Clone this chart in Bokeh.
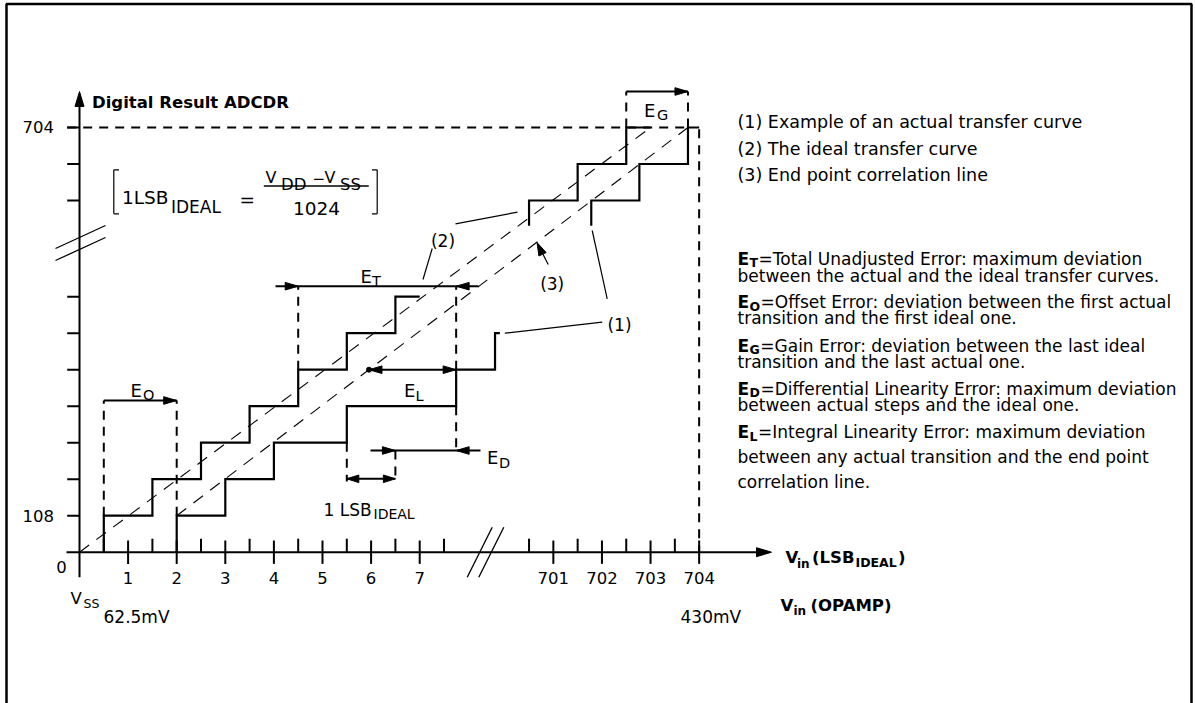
import math
from bokeh.plotting import figure
from bokeh.models import Range1d
from bokeh.core.properties import value
from bokeh.embed import file_html
from bokeh.resources import INLINE

# ------------------------------------------------------------------ data
X_MAJOR_LOW = [1, 2, 3, 4, 5, 6, 7]
X_MAJOR_HIGH = [701, 702, 703, 704]
X_MINOR_LOW = [0.5, 1.5, 2.5, 3.5, 4.5, 5.5, 6.5, 7.5]
X_MINOR_HIGH = [700.5, 701.5, 702.5, 703.5]
Y_LEVELS_LOW = [1, 2, 3, 4, 5, 6, 7]
Y_CODES_HIGH = [702, 703, 704]
Y_TICK_LABELS = {1: "108", 704: "704"}

IDEAL_T_LOW = [0.5, 1.5, 2.5, 3.5, 4.5, 5.5, 6.5]
IDEAL_LEVELS_LOW = [0, 1, 2, 3, 4, 5, 6, 7]
IDEAL_END_LOW = 7.0
IDEAL_T_HIGH = [700.5, 701.5, 702.5]
IDEAL_LEVELS_HIGH = [701.31, 702, 703, 704]
IDEAL_END_HIGH = 703.0

ACTUAL_T_LOW = [2.0, 3.0, 4.0, 5.5, 7.75, 8.55]
ACTUAL_LEVELS_LOW = [0, 1, 2, 3, 4, 5, 6]
ACTUAL_END_LOW = 8.65
ACTUAL_T_HIGH = [701.78, 702.77, 703.77]
ACTUAL_LEVELS_HIGH = [701.31, 702, 703, 704]
ACTUAL_END_HIGH = 704.0

IDEAL_LINE_X = [0.0, 703.0]
IDEAL_LINE_Y = [0.0, 704]
ENDPOINT_LINE_X = [2.0, 703.77]
ENDPOINT_LINE_Y = [1.0, 704]

NOTES = ["(1) Example of an actual transfer curve",
         "(2) The ideal transfer curve",
         "(3) End point correlation line"]
ERROR_DEFS = [
    ("T", ["=Total Unadjusted Error: maximum deviation",
           "between the actual and the ideal transfer curves."]),
    ("O", ["=Offset Error: deviation between the first actual",
           "transition and the first ideal one."]),
    ("G", ["=Gain Error: deviation between the last ideal",
           "transition and the last actual one."]),
    ("D", ["=Differential Linearity Error: maximum deviation",
           "between actual steps and the ideal one."]),
    ("L", ["=Integral Linearity Error: maximum deviation",
           "between any actual transition and the end point",
           "correlation line."]),
]

# ------------------------------------------------------------------ scales
W, H, OFF = 1195, 703, 0
PXU, PXK = 48.6, 36.5          # pixels per LSB / per code step
SX0, SY0 = 79.0, 551.7         # page position of the origin
FONT = value("DejaVu Sans")


def su(sx):
    return (sx - SX0) / PXU


def sk(sy):
    return (SY0 - sy) / PXK


def xu(v):      # broken x axis: 701..704 follow 7.5 after the break
    return v if v < 100 else v - 691.25


def yk(c):      # broken y axis: 702..704 follow level 7 after the break
    return c if c < 100 else c - 692.364


def scr(u, k):
    return SX0 + u * PXU, SY0 - k * PXK


p = figure(width=W, height=H, x_range=Range1d(su(OFF), su(OFF + W)),
           y_range=Range1d(sk(OFF + H), sk(OFF)), output_backend="svg",
           toolbar_location=None, title_location=None,
           x_axis_location=None, y_axis_location=None,
           min_border=0, min_border_left=0, min_border_right=0,
           min_border_top=0, min_border_bottom=0)
p.outline_line_color = None
p.background_fill_color = "white"
p.border_fill_color = "white"
p.xgrid.visible = False
p.ygrid.visible = False
for g in p.grid:
    g.visible = False

BLACK = "black"


def seg(x0, y0, x1, y1, lw=2.0, dash="solid"):
    p.segment(x0=x0, y0=y0, x1=x1, y1=y1, line_color=BLACK,
              line_width=lw, line_dash=dash)


heads_x, heads_y = [], []


def head(u, k, dx, dy, L=13.0, Wd=3.8):
    tx, ty = scr(u, k)
    n = math.hypot(dx, dy)
    ux, uy = dx / n, dy / n
    bx, by = tx - L * ux, ty - L * uy
    px, py = -uy, ux
    pts = [(tx, ty), (bx + Wd * px, by + Wd * py), (bx - Wd * px, by - Wd * py)]
    heads_x.append([su(a) for a, _ in pts])
    heads_y.append([sk(b) for _, b in pts])


def txt(sx, sy, s, size=17, bold=False, align="left", baseline="alphabetic"):
    p.text(x=[su(sx)], y=[sk(sy)], text=[s], text_font=FONT,
           text_font_size=f"{size}px",
           text_font_style="bold" if bold else "normal",
           text_align=align, text_baseline=baseline, text_color=BLACK)


def staircase(ts, levels, end):
    xs, ys = [], []
    for i, t in enumerate(ts):
        xs += [xu(t), xu(t)]
        ys += [yk(levels[i]), yk(levels[i + 1])]
    xs.append(xu(end))
    ys.append(yk(levels[-1]))
    return xs, ys


# ------------------------------------------------------------------ frame
fl, ft, fr = su(6), sk(3.5), su(1191)
p.line([fl, fl, fr, fr], [sk(H + 5), ft, ft, sk(H + 5)],
       line_color=BLACK, line_width=2.5)

# ------------------------------------------------------------------ dashed diagonals
THIN = "12 9"
p.line([xu(v) for v in IDEAL_LINE_X], [yk(c) for c in IDEAL_LINE_Y],
       line_color=BLACK, line_width=1.1, line_dash=THIN)
p.line([xu(v) for v in ENDPOINT_LINE_X], [yk(c) for c in ENDPOINT_LINE_Y],
       line_color=BLACK, line_width=1.1, line_dash=THIN)

# ------------------------------------------------------------------ axes
TICK_MAJ, TICK_MIN = 0.32, 0.37
p.line([0, 0], [sk(576.7), sk(105)], line_color=BLACK, line_width=2)
head(0, sk(91), 0, -1, L=15, Wd=4.5)
p.line([su(66), su(757)], [0, 0], line_color=BLACK, line_width=2)
head(su(771), 0, 1, 0, L=15, Wd=4.5)

xmaj = [xu(v) for v in X_MAJOR_LOW + X_MAJOR_HIGH]
seg(xmaj, [-TICK_MAJ] * len(xmaj), xmaj, [TICK_MAJ] * len(xmaj))
xmin = [xu(v) for v in X_MINOR_LOW + X_MINOR_HIGH]
seg(xmin, [0] * len(xmin), xmin, [TICK_MIN] * len(xmin))
ylev = [yk(c) for c in Y_LEVELS_LOW + Y_CODES_HIGH]
seg([su(66.7)] * len(ylev), ylev, [0] * len(ylev), ylev)

# axis breaks
seg([su(466.7), su(478.3)], [sk(576.7)] * 2, [su(491.7), su(503.3)], [sk(526.7)] * 2, lw=1.3)
seg([su(55), su(55)], [sk(248), sk(260)], [su(105), su(105)], [sk(225), sk(237)], lw=1.3)

# tick labels
for v in X_MAJOR_LOW + X_MAJOR_HIGH:
    sx, _ = scr(xu(v), 0)
    txt(sx, 577, str(v), 16.5, align="center", baseline="middle")
txt(61, 566, "0", 16.5, align="center", baseline="middle")
for c, lab in Y_TICK_LABELS.items():
    _, sy = scr(0, yk(c))
    txt(53.5, sy, lab, 16.5, align="right", baseline="middle")

# axis titles
txt(91.5, 101.5, "Digital Result ADCDR", 16.5, bold=True)
txt(785, 557, "V", 16.5, bold=True)
txt(796.5, 563, "in", 12, bold=True)
txt(811.5, 557, "(LSB", 16.5, bold=True)
txt(855, 562, "IDEAL", 12.5, bold=True)
txt(897.5, 557, ")", 16.5, bold=True)
txt(780, 605, "V", 16.5, bold=True)
txt(793, 610, "in", 12, bold=True)
txt(810, 605, "(OPAMP)", 16.5, bold=True)
txt(70, 598, "V", 16.5)
txt(83, 603, "SS", 12.5)
txt(103, 616.5, "62.5mV", 17)
txt(680, 616.5, "430mV", 17)

# ------------------------------------------------------------------ 704 reference lines
THICK = "9 7"
seg(su(66.7), yk(704), xu(ACTUAL_T_HIGH[-1]), yk(704), lw=2, dash=THICK)
seg(xu(704), yk(704) - 0.05, xu(704), 0, lw=2, dash=THICK)

# ------------------------------------------------------------------ staircases
for ts, lv, end in [(IDEAL_T_LOW, IDEAL_LEVELS_LOW, IDEAL_END_LOW),
                    (IDEAL_T_HIGH, IDEAL_LEVELS_HIGH, IDEAL_END_HIGH),
                    (ACTUAL_T_LOW, ACTUAL_LEVELS_LOW, ACTUAL_END_LOW),
                    (ACTUAL_T_HIGH, ACTUAL_LEVELS_HIGH, ACTUAL_END_HIGH)]:
    xs, ys = staircase(ts, lv, end)
    p.line(xs, ys, line_color=BLACK, line_width=2.2, line_join="miter")

# ------------------------------------------------------------------ error annotations
# E_O
EO_Y = sk(400)
seg([IDEAL_T_LOW[0], ACTUAL_T_LOW[0]], [1, 1], [IDEAL_T_LOW[0], ACTUAL_T_LOW[0]], [EO_Y] * 2, dash=THICK)
seg(IDEAL_T_LOW[0], EO_Y, ACTUAL_T_LOW[0], EO_Y)
head(ACTUAL_T_LOW[0], EO_Y, 1, 0)
txt(130, 390, "E", 18)
txt(142.5, 394.5, "O", 14.5)

# E_T
ET_Y = sk(285.7)
seg(su(275), ET_Y, su(478), ET_Y)
head(IDEAL_T_LOW[4], ET_Y, 1, 0)
head(ACTUAL_T_LOW[4], ET_Y, -1, 0)
seg([IDEAL_T_LOW[4], ACTUAL_T_LOW[4]], [5, 5], [IDEAL_T_LOW[4], ACTUAL_T_LOW[4]], [ET_Y] * 2, dash=THICK)
txt(360, 276, "E", 18)
txt(371.5, 280.5, "T", 14.5)

# E_L
ex0, ex1 = xu(ENDPOINT_LINE_X[0]), xu(ENDPOINT_LINE_X[1])
ey0, ey1 = yk(ENDPOINT_LINE_Y[0]), yk(ENDPOINT_LINE_Y[1])
EL_Y = 5
EL_X = ex0 + (EL_Y - ey0) * (ex1 - ex0) / (ey1 - ey0)
seg(EL_X, EL_Y, ACTUAL_T_LOW[4], EL_Y)
head(EL_X, EL_Y, -1, 0)
head(ACTUAL_T_LOW[4], EL_Y, 1, 0)
p.scatter([EL_X], [EL_Y], marker="circle", size=5, color=BLACK)
txt(403.5, 390, "E", 18)
txt(415, 395, "L", 14.5)

# E_D
ED_Y = sk(450)
seg(su(370), ED_Y, su(480), ED_Y)
head(6.5, ED_Y, 1, 0)
head(ACTUAL_T_LOW[4], ED_Y, -1, 0)
seg(ACTUAL_T_LOW[4], 4, ACTUAL_T_LOW[4], ED_Y, dash=THICK)
txt(486.5, 456.5, "E", 18)
txt(498.5, 462, "D", 14.5)

# 1 LSB
LSB_Y = sk(478.3)
seg([5.5, 6.5], [3, ED_Y], [5.5, 6.5], [sk(481)] * 2, dash=THICK)
seg(5.5, LSB_Y, 6.5, LSB_Y)
head(5.5, LSB_Y, -1, 0, L=12)
head(6.5, LSB_Y, 1, 0, L=12)
txt(323, 509.5, "1 LSB", 17)
txt(373, 513.5, "IDEAL", 14)

# E_G
EG_Y = sk(91)
gx0, gx1 = xu(IDEAL_T_HIGH[-1]), xu(ACTUAL_T_HIGH[-1])
seg([gx0, gx1], [yk(704)] * 2, [gx0, gx1], [EG_Y] * 2, dash=THICK)
seg(gx0, EG_Y, gx1, EG_Y)
head(gx1, EG_Y, 1, 0)
txt(643.5, 109.5, "E", 18)
txt(656.5, 114.5, "G", 14.5)

# ------------------------------------------------------------------ callouts
LEAD = 1.2
seg(su(431.7), sk(248), su(422.5), sk(279), lw=LEAD)
seg(su(455), sk(223.3), su(517), sk(211.7), lw=LEAD)
txt(442.5, 240.5, "(2)", 17, align="center")
seg(su(547.7), sk(264), su(537.5), sk(244), lw=LEAD)
head(su(536.5), sk(242), -10.2, -21.7, L=13, Wd=4)
txt(551.7, 283, "(3)", 17, align="center")
seg(su(601.7), sk(321.7), su(504.3), sk(332.7), lw=LEAD)
seg(su(606.7), sk(298.3), su(591.7), sk(230), lw=LEAD)
txt(619, 324, "(1)", 17, align="center")

p.patches(heads_x, heads_y, fill_color=BLACK, line_color=BLACK, line_width=1)

# ------------------------------------------------------------------ formula
seg([su(113.3), su(376.7)], [sk(169.3)] * 2, [su(113.3), su(376.7)], [sk(213.3)] * 2, lw=1.2)
seg([su(113.3), su(113.3), su(376.7), su(376.7)],
    [sk(169.3), sk(213.3), sk(169.3), sk(213.3)],
    [su(118.5), su(118.5), su(371.5), su(371.5)],
    [sk(169.3), sk(213.3), sk(169.3), sk(213.3)], lw=1.2)
txt(121.5, 196.7, "1LSB", 18.5)
txt(170.5, 206.5, "IDEAL", 17)
txt(239, 199, "=", 18.5)
seg(su(263.3), sk(185.5), su(368.3), sk(185.5), lw=1.5)
txt(265, 177, "V", 16)
txt(280.5, 184, "DD", 16.5)
txt(312, 177, "\u2212", 15)
txt(324, 177, "V", 16)
txt(339.5, 184, "SS", 16.5)
txt(316, 208.3, "1024", 18.5, align="center")

# ------------------------------------------------------------------ right-hand notes
RX = 737
for i, s in enumerate(NOTES):
    txt(RX, 121.5 + 26.5 * i, s, 17.5)

SUBW = {"T": 8.5, "O": 10.6, "G": 10.3, "D": 10.4, "L": 8.0}
PARA_B = [258.3, 301.8, 345.0, 388.3, 431.7]
PITCH = [17.0, 16.0, 16.0, 16.0, 24.7]
for i, (sub, lines) in enumerate(ERROR_DEFS):
    b = PARA_B[i]
    txt(RX, b, "E", 17, bold=True)
    txt(RX + 12, b + 4, sub, 12.5, bold=True)
    txt(RX + 12 + SUBW[sub] + 0.5, b, lines[0], 17)
    for j, s in enumerate(lines[1:]):
        txt(RX, b + PITCH[i] * (j + 1), s, 17)

open("out.html", "w").write(file_html(p, INLINE))
